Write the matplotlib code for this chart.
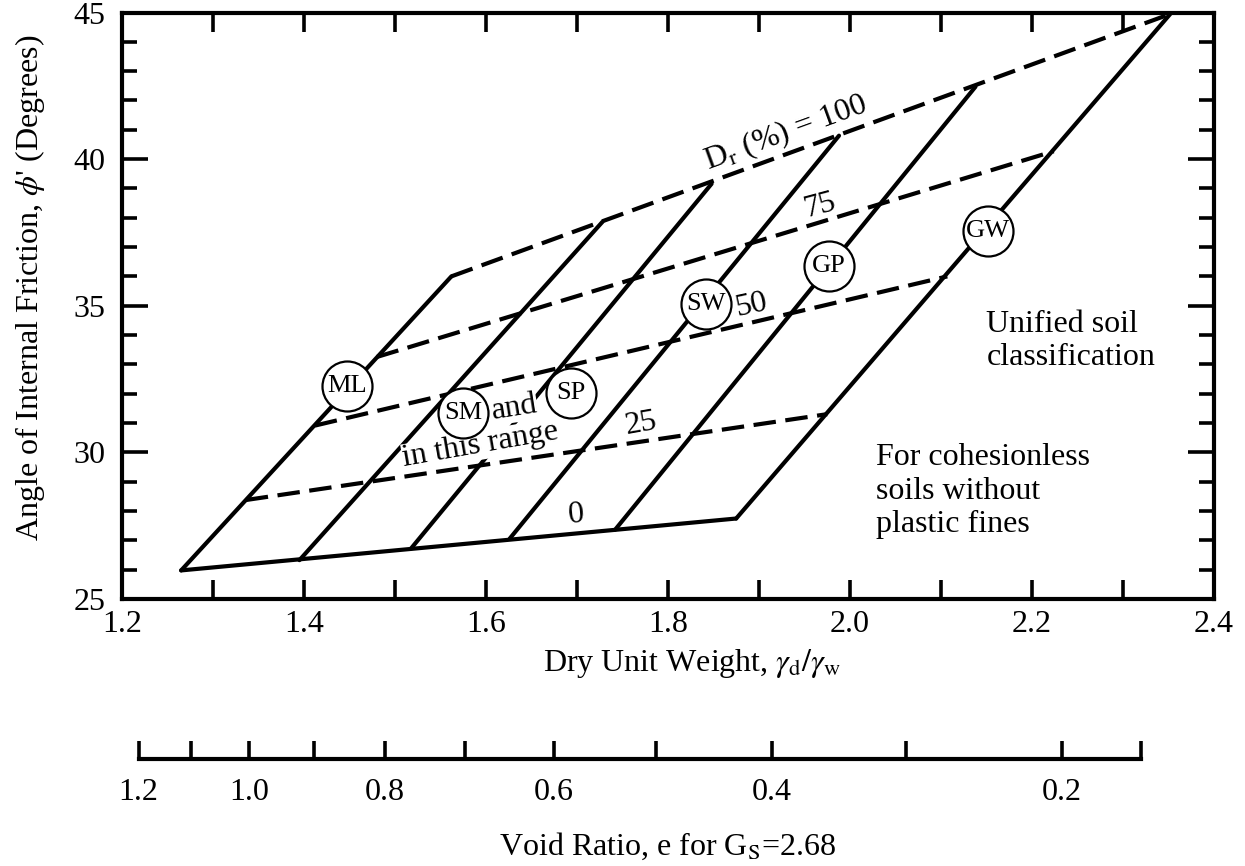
import numpy as np
import matplotlib.pyplot as plt
from matplotlib.ticker import MultipleLocator, FormatStrFormatter

plt.rcParams['font.family'] = ['Liberation Serif', 'DejaVu Serif']
plt.rcParams['mathtext.fontset'] = 'stix'

# relative density lines D_r (%): ends on the left (ML) edge and on the right (GW) edge
dr_levels = [0, 25, 50, 75, 100]
dr_left_x = [1.265, 1.336, 1.412, 1.480, 1.562]
dr_left_y = [25.97, 28.37, 30.91, 33.25, 36.00]
dr_right_x = [1.875, 1.975, 2.107, 2.224, 2.352]
dr_right_y = [27.74, 31.30, 36.00, 40.27, 44.95]

# soil type lines, from D_r = 0 up to D_r = 100
soil_bot_x = [1.265, 1.395, 1.518, 1.626, 1.742, 1.875]
soil_bot_y = [25.97, 26.32, 26.73, 27.05, 27.36, 27.74]
soil_top_x = [1.562, 1.728, 1.848, 1.988, 2.138, 2.352]
soil_top_y = [36.00, 37.86, 39.16, 40.80, 42.47, 44.95]

# unified soil classification symbols
soil_names = ['ML', 'SM', 'SP', 'SW', 'GP', 'GW']
soil_x = [1.447, 1.575, 1.693, 1.842, 1.977, 2.152]
soil_y = [32.27, 31.35, 32.01, 35.07, 36.34, 37.56]

# labels of the D_r lines
dr_text = [r'D$_\mathrm{r}$ (%) = 100', '75', '50', '25', '0']
dr_text_x = [1.930, 1.968, 1.892, 1.770, 1.699]
dr_text_y = [40.90, 38.41, 35.00, 30.97, 27.88]
dr_text_rot = [20, 15, 12, 10, 5]

# void ratio scale, e = Gs / (gamma_d / gamma_w) - 1
GS = 2.68
void_major = [1.2, 1.0, 0.8, 0.6, 0.4, 0.2]
void_minor = [1.1, 0.9, 0.7, 0.5, 0.3]
void_end = 2.32  # dry unit weight at the right end of the void ratio scale

fs = 23

fig = plt.figure(figsize=(12.45, 8.66), dpi=100)
ax = fig.add_axes([0.098, 0.3085, 0.877, 0.677])

dash = (0, (5.4, 2.3))
for i, lvl in enumerate(dr_levels):
    ax.plot([dr_left_x[i], dr_right_x[i]], [dr_left_y[i], dr_right_y[i]],
            color='black', lw=3.0, ls='-' if lvl == 0 else dash,
            solid_capstyle='round', zorder=2)

for i in range(len(soil_bot_x)):
    ax.plot([soil_bot_x[i], soil_top_x[i]], [soil_bot_y[i], soil_top_y[i]],
            color='black', lw=3.0, solid_capstyle='round', zorder=2)

ax.plot(soil_x, soil_y, 'o', ms=36, mfc='white', mec='black', mew=1.6,
        zorder=4)
for name, x, y in zip(soil_names, soil_x, soil_y):
    ax.text(x, y, name, fontsize=19, ha='center', va='center', zorder=5)

for t, x, y, r in zip(dr_text, dr_text_x, dr_text_y, dr_text_rot):
    ax.text(x, y, t, fontsize=fs, ha='center', va='center', rotation=r,
            rotation_mode='anchor', zorder=5)

box = dict(facecolor='white', edgecolor='none', pad=0)
ax.text(1.594, 30.24, 'in this range', fontsize=fs, ha='center',
        va='center', rotation=10, rotation_mode='anchor', bbox=box, zorder=3)
ax.text(1.631, 31.51, 'and', fontsize=fs, ha='center', va='center',
        rotation=9, rotation_mode='anchor', bbox=box, zorder=3)

ax.text(2.150, 33.8, 'Unified soil\nclassification', fontsize=fs,
        ha='left', va='center', linespacing=1.2)
ax.text(2.029, 28.67, 'For cohesionless\nsoils without\nplastic fines',
        fontsize=fs, ha='left', va='center', linespacing=1.2)

ax.set_xlim(1.2, 2.4)
ax.set_ylim(25, 45)
ax.xaxis.set_major_locator(MultipleLocator(0.2))
ax.xaxis.set_minor_locator(MultipleLocator(0.1))
ax.xaxis.set_major_formatter(FormatStrFormatter('%.1f'))
ax.yaxis.set_major_locator(MultipleLocator(5))
ax.yaxis.set_minor_locator(MultipleLocator(1))
ax.tick_params(axis='x', which='both', direction='in', top=True,
               length=14, width=2.6, labelsize=fs, pad=8)
ax.tick_params(axis='y', which='major', direction='in', right=True,
               length=19, width=2.6, labelsize=fs, pad=12)
ax.tick_params(axis='y', which='minor', direction='in', right=True,
               length=11, width=2.6)
for s in ax.spines.values():
    s.set_linewidth(3)

ax.set_xlabel(r'Dry Unit Weight, $\gamma_\mathrm{d}/\gamma_\mathrm{w}$',
              fontsize=fs)
ax.xaxis.set_label_coords(0.522, -0.082)
ax.set_ylabel(r"Angle of Internal Friction, $\phi$' (Degrees)", fontsize=fs)
ax.yaxis.set_label_coords(-0.069, 0.53)

# void ratio scale under the plot
axv = fig.add_axes([0.098, 0.1235, 0.877, 0.02])
axv.set_xlim(ax.get_xlim())
axv.set_ylim(0, 1)
axv.set_yticks([])
axv.patch.set_visible(False)
for side in ['top', 'left', 'right']:
    axv.spines[side].set_visible(False)
axv.spines['bottom'].set_linewidth(3)
axv.spines['bottom'].set_bounds(GS / (1 + void_major[0]), void_end)
axv.set_xticks([GS / (1 + e) for e in void_major])
axv.set_xticklabels(['%.1f' % e for e in void_major])
axv.set_xticks([GS / (1 + e) for e in void_minor] + [void_end], minor=True)
axv.tick_params(axis='x', which='both', direction='in', length=13,
                width=2.6, labelsize=fs, pad=14)
axv.set_xlabel(r'Void Ratio, e for G$_\mathrm{S}$=2.68', fontsize=fs,
               labelpad=17)

fig.savefig('out.png', dpi=100)
